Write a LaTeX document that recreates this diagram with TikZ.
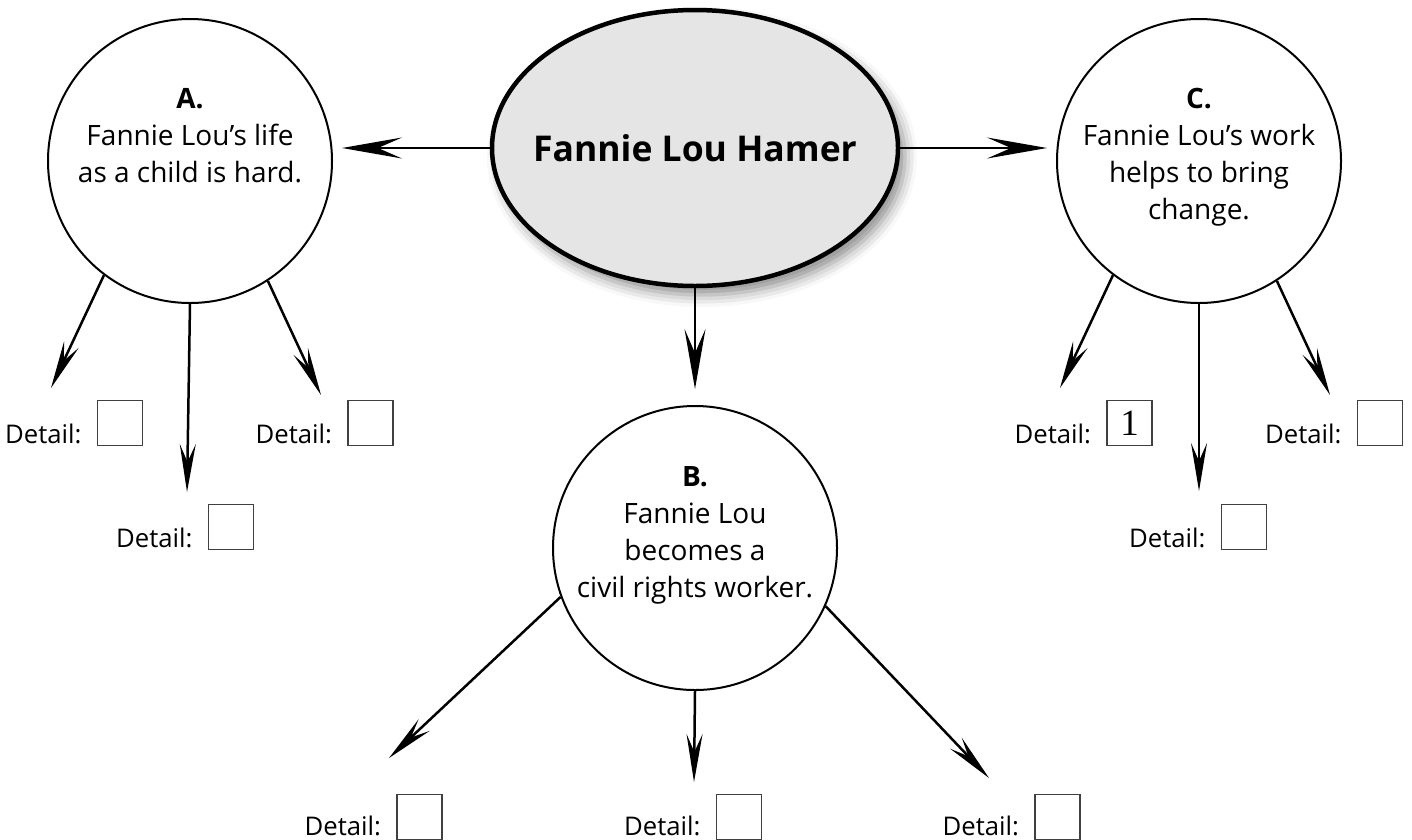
\documentclass[tikz,border=0pt]{standalone}
\usepackage{fontspec}
\setmainfont{Open Sans}
\newfontfamily\answerfont{Liberation Serif}
\usetikzlibrary{arrows.meta,positioning,shapes.geometric,shadows.blur}

\begin{document}
\begin{tikzpicture}[
    x=1pt, y=-1pt,
    topic/.style={draw, ellipse, line width=4.5pt, fill=gray!20, minimum width=406pt, minimum height=276pt,
        inner xsep=-20pt, inner ysep=0pt,
        font=\fontsize{35.5}{40}\selectfont\bfseries,
        blur shadow={shadow xshift=7pt, shadow yshift=-9pt, shadow blur radius=12pt, shadow opacity=45}},
    idea/.style={draw, circle, line width=2pt, minimum size=284pt, inner sep=0pt},
    ideatext/.style={anchor=north, align=center, inner sep=0pt, font=\fontsize{28}{37}\selectfont},
    detail/.style={anchor=base east, inner sep=0pt, font=\fontsize{25.7}{30}\selectfont},
    answer/.style={draw=black!75, line width=1.5pt, minimum size=45pt, inner sep=0pt, font=\fontsize{37}{37}\selectfont\answerfont},
    bigarrow/.style={-{Stealth[length=60pt, width=21pt, inset=24pt]}, line width=2.2pt},
    arrow/.style={-{Stealth[length=48pt, width=16pt, inset=18pt]}, line width=2.5pt}
]
    \useasboundingbox (0,0) rectangle (1412,839);

    % main topic and the three ideas
    \node[topic] (hamer) at (695,148) {Fannie Lou Hamer};
    \node[idea] (a) at (190,161) {};
    \node[idea] (b) at (695,548) {};
    \node[idea] (c) at (1199,161) {};

    \node[ideatext] (atext) at (190,88) {\textbf{A.}\\Fannie Lou’s life\\as a child is hard.};
    \node[ideatext] (btext) at (695,466) {\textbf{B.}\\Fannie Lou\\becomes a\\civil rights worker.};
    \node[ideatext] (ctext) at (1199,88) {\textbf{C.}\\Fannie Lou’s work\\helps to bring\\change.};

    \draw[bigarrow, shorten >=9pt] (hamer.west) -- (a.east |- hamer.west);
    \draw[bigarrow, shorten >=9pt] (hamer.east) -- (c.west |- hamer.east);
    \draw[bigarrow, shorten >=16pt] (hamer) -- (b);

    % details of A
    \node[answer] (a1box) at (120,423) {};
    \node[answer] (a2box) at (370.5,423) {};
    \node[answer] (a3box) at (231,527) {};
    \node[detail] (a1) at ([xshift=-15pt, yshift=3pt]a1box.south west) {Detail:};
    \node[detail] (a2) at ([xshift=-15pt, yshift=3pt]a2box.south west) {Detail:};
    \node[detail] (a3) at ([xshift=-15pt, yshift=3pt]a3box.south west) {Detail:};
    \coordinate (a1tip) at (51,388);
    \coordinate (a2tip) at (321,395);
    \coordinate (a3tip) at (187,492);
    \draw[arrow] (a.233) -- (a1tip);
    \draw[arrow] (a.303) -- (a2tip);
    \draw[arrow] (a.south) -- (a3tip);

    % details of B
    \node[answer] (b1box) at (419.5,817) {};
    \node[answer] (b2box) at (739,817) {};
    \node[answer] (b3box) at (1057.5,817) {};
    \node[detail] (b1) at ([xshift=-15pt, yshift=5pt]b1box.south west) {Detail:};
    \node[detail] (b2) at ([xshift=-15pt, yshift=5pt]b2box.south west) {Detail:};
    \node[detail] (b3) at ([xshift=-15pt, yshift=5pt]b3box.south west) {Detail:};
    \coordinate (b1tip) at (389,758);
    \coordinate (b2tip) at (694,782);
    \coordinate (b3tip) at (989,778);
    \draw[arrow] (b.200) -- (b1tip);
    \draw[arrow] (b.south) -- (b2tip);
    \draw[arrow] (b.336) -- (b3tip);

    % details of C
    \node[answer] (c1box) at (1129.5,423) {1};
    \node[answer] (c2box) at (1380,423) {};
    \node[answer] (c3box) at (1244,527) {};
    \node[detail] (c1) at ([xshift=-15pt, yshift=3pt]c1box.south west) {Detail:};
    \node[detail] (c2) at ([xshift=-15pt, yshift=3pt]c2box.south west) {Detail:};
    \node[detail] (c3) at ([xshift=-15pt, yshift=3pt]c3box.south west) {Detail:};
    \coordinate (c1tip) at (1060,388);
    \coordinate (c2tip) at (1330,395);
    \coordinate (c3tip) at (1199,491);
    \draw[arrow] (c.233) -- (c1tip);
    \draw[arrow] (c.303) -- (c2tip);
    \draw[arrow] (c.south) -- (c3tip);

\end{tikzpicture}
\end{document}
